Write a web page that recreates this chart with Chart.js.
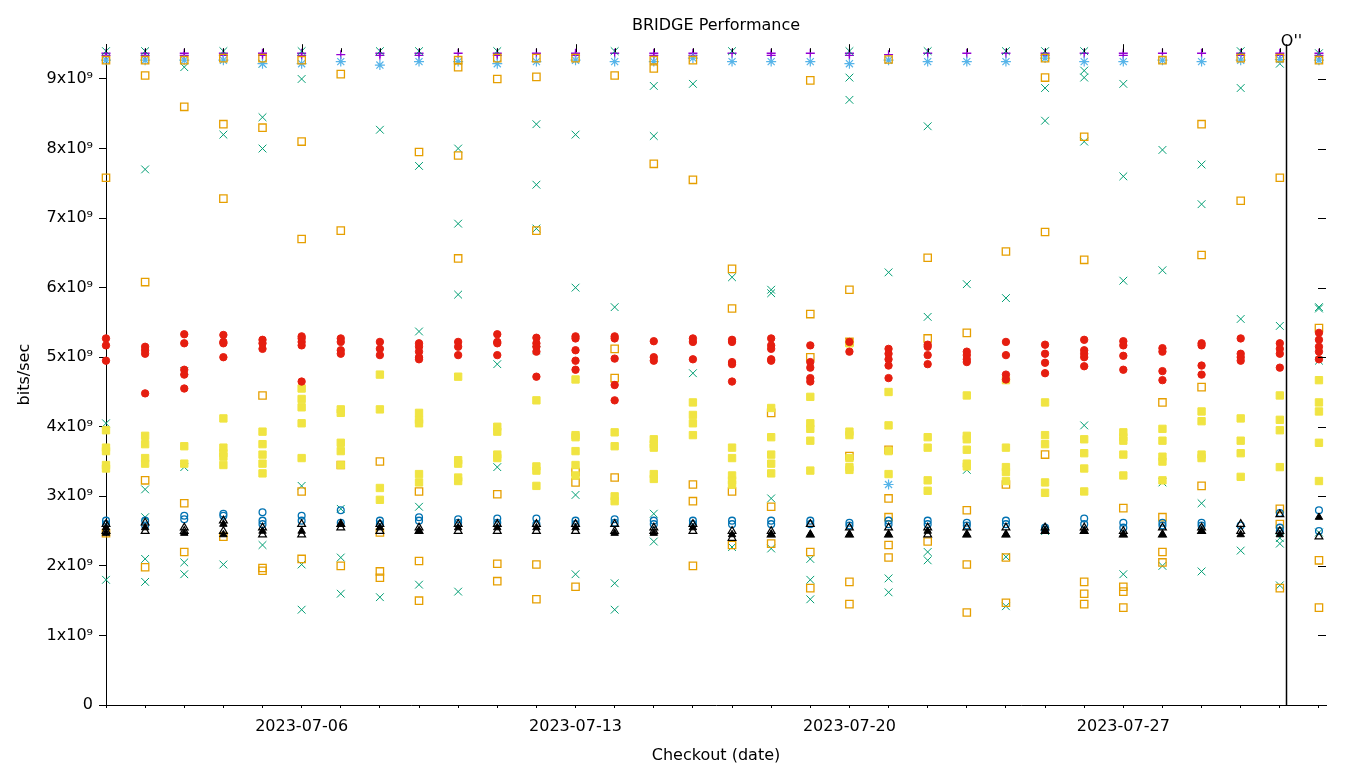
<!DOCTYPE html>
<html><head><meta charset="utf-8">
<script src="https://cdn.jsdelivr.net/npm/chart.js@4.4.0/dist/chart.umd.min.js"></script>
<style>html,body{margin:0;padding:0;background:#fff}</style>
</head><body>
<canvas id="c" width="1360" height="768"></canvas>
<script>
// x = day index from 2023-07-01 (0) to 2023-08-01 (31); values in units of 1e9 bits/sec
const startDate = '2023-07-01';
const tickDays = [5, 12, 19, 26];
const tickLabels = ['2023-07-06', '2023-07-13', '2023-07-20', '2023-07-27'];
const yTickValues = [0, 1, 2, 3, 4, 5, 6, 7, 8, 9];
const markerDay = 30.16;
const markerLabel = "O''";

const purplePlus = [[9.37,9.34],[9.37,9.34],[9.37,9.34],[9.37,9.34],[9.37,9.34],[9.37,9.34],[9.35],[9.37,9.34],[9.37,9.34],[9.37],[9.37,9.34],[9.37],[9.37,9.34],[9.37],[9.37,9.34],[9.37,9.34],[9.37],[9.37,9.34],[9.37],[9.37,9.34],[9.35],[9.37],[9.37],[9.37],[9.37,9.34],[9.37],[9.37,9.34],[9.37],[9.37],[9.37,9.34],[9.37,9.34],[9.37,9.34]];

const greenX = [
 [9.4,4.05,1.8],[9.4,7.7,3.1,2.7,2.1,1.77],[9.17,4.8,3.42,2.05,1.88],[9.4,8.2,2.02],
 [9.22,8.45,8.0,2.3],[9.4,9.0,3.15,2.02,1.37],[2.82,2.12,1.6],[9.4,8.27,1.55],
 [9.4,7.75,5.37,2.85,1.73],[8.0,6.92,5.9,1.63],[9.4,4.9,3.42],[8.35,7.48,6.85,5.1],
 [8.2,6.0,3.02,1.88],[9.4,5.72,1.75,1.37],[8.9,8.18,2.75,2.35],[8.93,4.77],
 [9.4,6.15,2.27],[5.97,5.92,2.97,2.25],[2.1,1.8,1.52],[9.4,9.02,8.7],
 [6.22,1.82,1.62],[9.4,8.32,5.58,2.2,2.08],[6.05,3.38],[9.4,5.85,2.13,1.42],
 [9.4,9.3,8.87,8.4,2.5],[9.4,9.12,9.02,8.1,4.02],[8.93,7.6,6.1,1.88],[7.98,6.25,3.2,2.0],
 [7.77,7.2,2.9,1.92],[9.4,8.87,5.55,2.22],[9.22,5.45,2.4,2.32,1.72],[9.37,5.72,5.7,4.95,2.48]
];

const lightBlueStar = [[9.27],[9.27],[9.27],[9.27],[9.22],[9.22],[9.25],[9.2],[9.25],[9.25],[9.22],[9.25],[9.27],[9.25],[9.25],[9.3],[9.25],[9.25],[9.25],[9.22],[9.27,3.17],[9.25],[9.25],[9.25],[9.3],[9.25],[9.25],[9.27],[9.25],[9.27],[9.28],[9.27]];

const orangeSquare = [
 [9.27,7.58,2.47],[9.27,9.05,6.08,3.23,1.98],[9.27,8.6,2.9,2.2],[9.3,8.35,7.28,2.42],
 [9.3,8.3,4.45,1.97,1.93],[9.27,8.1,6.7,3.07,2.1],[9.07,6.82,3.45,2.0],[3.5,2.48,1.92,1.83],
 [7.95,3.07,2.07,1.5],[9.27,9.17,7.9,6.42],[9.3,9.0,3.03,2.03,1.78],[9.3,9.03,6.82,2.02,1.52],
 [9.3,3.35,3.2,1.7],[9.05,5.12,4.7,3.27],[9.27,9.15,7.78],[9.27,7.55,3.17,2.93,2.0],
 [6.27,5.7,3.07,2.3],[4.2,2.85,2.32],[8.98,5.62,5.0,2.2,1.68],[5.97,5.22,3.58,1.77,1.45],
 [9.28,3.67,2.97,2.7,2.3,2.12],[6.43,5.27,2.35],[5.35,2.8,2.02,1.33],[6.52,3.17,2.12,1.47],
 [9.3,9.02,6.8,3.6],[8.17,6.4,1.77,1.6,1.45],[2.83,1.7,1.63,1.4],[9.27,4.35,2.7,2.2,2.05],
 [8.35,6.47,4.57,3.15],[9.3,7.25],[9.3,7.58,2.82,2.6,1.68],[9.27,5.42,2.08,1.4]
];

const yellowSquare = [
 [3.95,3.7,3.65,3.45,3.4],[3.87,3.75,3.55,3.47],[3.72,3.47],[4.12,3.7,3.62,3.57,3.45],
 [3.93,3.75,3.6,3.47,3.33],[4.55,4.4,4.28,4.05,3.55],[4.25,4.2,3.77,3.65,3.45],[4.75,4.25,3.12,2.95],
 [4.2,4.1,4.05,3.32,3.2],[4.72,3.52,3.47,3.27,3.22],[4.0,3.93,3.6,3.55],[4.38,3.43,3.37,3.15],
 [4.68,3.88,3.85,3.65,3.45,3.3],[3.92,3.72,3.0,2.93],[3.82,3.75,3.7,3.32,3.25],[4.35,4.17,4.05,3.88],
 [3.7,3.55,3.3,3.23,3.17],[4.27,3.85,3.6,3.47,3.33],[4.43,4.05,3.97,3.8,3.37],[5.2,3.93,3.88,3.55,3.42,3.38],
 [4.5,4.02,3.65,3.32],[3.85,3.7,3.23,3.08],[4.45,3.87,3.82,3.67,3.47,3.43],[4.67,3.7,3.42,3.35,3.22],
 [4.35,3.88,3.75,3.2,3.05],[3.82,3.62,3.4,3.07],[3.92,3.85,3.8,3.6,3.3],[3.97,3.8,3.57,3.5,3.23],
 [4.22,4.08,3.6,3.55],[4.12,3.8,3.62,3.28],[4.45,4.1,3.95,3.42],[4.67,4.35,4.22,3.77,3.22]
];

const blueCircle = [
 [2.65,2.6],[2.65,2.58],[2.72,2.67],[2.75,2.72],[2.77,2.65,2.6],[2.72,2.65],[2.8,2.62],[2.65,2.6],
 [2.7,2.65],[2.67,2.62],[2.68,2.62],[2.68,2.6],[2.65,2.6],[2.67,2.62],[2.65,2.6],[2.65,2.6],
 [2.65,2.6],[2.65,2.6],[2.65,2.6],[2.62,2.58],[2.65,2.6],[2.65,2.6],[2.62,2.58],[2.65,2.6],
 [2.55,2.52],[2.68,2.6],[2.62,2.55],[2.62,2.58],[2.62,2.58],[2.58],[2.76,2.55,2.5],[2.8,2.5]
];

const redCircle = [
 [5.27,5.17,4.95],[5.15,5.1,5.05,4.48],[5.33,5.2,4.82,4.75,4.55],[5.32,5.22,5.2,5.0],
 [5.25,5.2,5.12],[5.3,5.27,5.22,5.17,4.65],[5.27,5.22,5.1,5.05],[5.22,5.12,5.03],
 [5.2,5.15,5.08,5.0,4.97],[5.22,5.15,5.03],[5.33,5.22,5.2,5.03],[5.28,5.2,5.15,5.08,4.72],
 [5.3,5.27,5.1,4.95,4.82],[5.3,5.27,4.98,4.6,4.38],[5.23,5.0,4.95],[5.27,5.22,4.97],
 [5.25,5.22,4.93,4.9,4.65],[5.27,5.17,5.12,4.97,4.95],[5.17,4.93,4.85,4.7,4.65],[5.22,5.08],
 [5.12,5.05,4.97,4.88,4.7],[5.18,5.15,5.03,4.9],[5.08,5.03,4.97,4.93],[5.22,5.03,4.75,4.68],
 [5.18,5.05,4.92,4.77],[5.25,5.1,5.05,5.0,4.87],[5.23,5.17,5.02,4.82],[5.13,5.08,4.8,4.67],
 [5.2,5.17,4.88,4.75],[5.27,5.05,5.0,4.95],[5.2,5.12,5.05,4.85],[5.35,5.25,5.15,5.08,4.97]
];

const blackTriangle = [
 [2.6,2.5],[2.62,2.5],[2.55,2.5],[2.65,2.5],[2.55,2.45],[2.6,2.45],[2.6,2.55],[2.6,2.5],
 [2.55,2.5],[2.6,2.5],[2.6,2.5],[2.6,2.5],[2.6,2.5],[2.6,2.5],[2.55,2.5],[2.6,2.5],
 [2.5,2.4],[2.5,2.45],[2.6,2.45],[2.55,2.45],[2.55,2.45],[2.55,2.45],[2.55,2.45],[2.55,2.45],
 [2.55,2.5],[2.55,2.5],[2.5,2.45],[2.55,2.45],[2.55,2.5],[2.6,2.5],[2.74,2.5],[2.42]
];

const blackFilledTriangle = [
 [2.55,2.47],[2.55],[2.47],[2.6,2.45],[2.5],[2.5],[2.6],[2.55],
 [2.5],[2.55],[2.55],[2.55],[2.55],[2.47],[2.47],[2.55],
 [2.45],[2.45],[2.45],[2.45],[2.45],[2.5],[2.45],[2.45],
 [2.5],[2.5],[2.45],[2.45],[2.5],[2.45],[2.45],[2.7]
];

function toPoints(perDay) {
  const pts = [];
  perDay.forEach((vals, d) => vals.forEach(v => pts.push({x: d, y: v * 1e9})));
  return pts;
}

const seriesDefs = [
  {data: purplePlus, style: 'cross', color: '#9400d3', fill: false, r: 4.5, w: 1.3},
  {data: greenX, style: 'crossRot', color: '#009e73', fill: false, r: 5.5, w: 1},
  {data: lightBlueStar, style: 'star', color: '#56b4e9', fill: false, r: 5, w: 1.2},
  {data: orangeSquare, style: 'rect', color: '#e69f00', fill: false, r: 5.2, w: 1.3},
  {data: yellowSquare, style: 'rect', color: '#f0e442', fill: true, r: 5.2, w: 1},
  {data: blueCircle, style: 'circle', color: '#0072b2', fill: false, r: 3.4, w: 1.3},
  {data: redCircle, style: 'circle', color: '#e51e10', fill: true, r: 3.7, w: 1},
  {data: blackTriangle, style: 'triangle', color: '#000000', fill: false, r: 4.5, w: 1.2},
  {data: blackFilledTriangle, style: 'triangle', color: '#000000', fill: true, r: 4.3, w: 1}
];

const datasets = seriesDefs.map((s, i) => ({
  data: toPoints(s.data),
  pointStyle: s.style,
  pointRadius: s.r,
  pointHoverRadius: s.r,
  pointBorderWidth: s.w,
  borderColor: s.color,
  backgroundColor: s.fill ? s.color : 'rgba(0,0,0,0)',
  showLine: false,
  clip: false,
  order: seriesDefs.length - i
}));

const extras = {
  id: 'extras',
  afterDatasetsDraw(chart) {
    const {ctx, chartArea: a, scales: {x, y}} = chart;
    ctx.save();
    ctx.strokeStyle = '#000';
    ctx.lineWidth = 1;
    ctx.beginPath();
    for (let d = 0; d <= 31; d++) {
      const px = Math.round(x.getPixelForValue(d)) + 0.5;
      const major = tickDays.includes(d);
      ctx.moveTo(px, a.top + (major ? 0 : 4));
      ctx.lineTo(px, a.top + 8);
    }
    yTickValues.forEach(v => {
      const py = Math.round(y.getPixelForValue(v * 1e9)) + 0.5;
      ctx.moveTo(a.right - 8, py);
      ctx.lineTo(a.right, py);
    });
    ctx.stroke();
    const mx = Math.round(x.getPixelForValue(markerDay)) + 0.5;
    ctx.lineWidth = 1.5;
    ctx.beginPath();
    ctx.moveTo(mx, a.top);
    ctx.lineTo(mx, a.bottom);
    ctx.stroke();
    ctx.fillStyle = '#000';
    ctx.font = '16px "DejaVu Sans"';
    ctx.textAlign = 'center';
    ctx.textBaseline = 'alphabetic';
    ctx.fillText(markerLabel, mx + 5, a.top + 2);
    ctx.restore();
  }
};

Chart.defaults.font.family = '"DejaVu Sans", sans-serif';
Chart.defaults.font.size = 16;
Chart.defaults.color = '#000';

new Chart(document.getElementById('c'), {
  type: 'scatter',
  data: {datasets},
  plugins: [extras],
  options: {
    responsive: false,
    animation: false,
    devicePixelRatio: 1,
    layout: {padding: {left: 0, right: 34, top: 0, bottom: 0}},
    plugins: {
      legend: {display: false},
      tooltip: {enabled: false},
      title: {
        display: true, text: 'BRIDGE Performance', fullSize: false,
        font: {size: 16, weight: 'normal'}, color: '#000',
        padding: {top: 16, bottom: 9}
      }
    },
    scales: {
      x: {
        type: 'linear', min: 0, max: 31.18,
        afterBuildTicks(s) { const t = []; for (let d = 0; d <= 31; d++) t.push({value: d}); s.ticks = t; },
        afterFit(s) { s.height = 63; },
        ticks: {
          autoSkip: false, maxRotation: 0, padding: 9,
          callback(v) { const i = tickDays.indexOf(v); return i >= 0 ? tickLabels[i] : ''; }
        },
        grid: {drawOnChartArea: false, drawTicks: true, tickLength: 3, color: '#000'},
        border: {display: true, color: '#000', width: 1},
        title: {display: true, text: 'Checkout (date)', padding: {top: 0, bottom: 3}}
      },
      y: {
        type: 'linear', min: 0, max: 9.5e9,
        afterBuildTicks(s) { s.ticks = yTickValues.map(v => ({value: v * 1e9})); },
        afterFit(s) { s.width = 106; },
        ticks: {
          padding: 6,
          callback(v) { const n = Math.round(v / 1e9); return n === 0 ? '0' : n + 'x10\u2079'; }
        },
        grid: {drawOnChartArea: false, drawTicks: true, tickLength: 7, color: '#000'},
        border: {display: true, color: '#000', width: 1},
        title: {display: true, text: 'bits/sec', padding: {top: 15, bottom: 0}}
      }
    }
  }
});
</script>
</body></html>
